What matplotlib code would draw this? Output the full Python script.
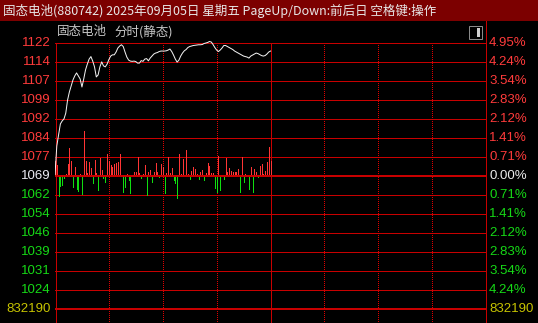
#!/usr/bin/env python3
"""Intraday (分时) chart of the 固态电池 sector index, morning session."""

import matplotlib
matplotlib.use("Agg")
import matplotlib.pyplot as plt
from matplotlib.patches import Rectangle
from matplotlib.lines import Line2D
from matplotlib.transforms import blended_transform_factory

plt.rcParams["font.family"] = ["Noto Sans CJK SC", "DejaVu Sans"]
plt.rcParams["lines.scale_dashes"] = False

TITLE = "固态电池(880742) 2025年09月05日 星期五 PageUp/Down:前后日 空格键:操作"
SUBTITLE_NAME = "固态电池"
SUBTITLE_MODE = "分时(静态)"

PREV_CLOSE = 1069.2
PCT_STEP = 0.7071  # percent per grid row
VOLUME_MAX_LABEL = "832190"

PRICE_LABELS_UP = ["1077", "1084", "1092", "1099", "1107", "1114", "1122"]
PRICE_LABELS_DOWN = ["1062", "1054", "1046", "1039", "1031", "1024"]
PCT_LABELS = ["0.71%", "1.41%", "2.12%", "2.83%", "3.54%", "4.24%", "4.95%"]

# one value per minute from 09:30 to 11:30
PRICE = [
    1069.6, 1081.0, 1085.5, 1089.8, 1091.0, 1091.8, 1094.1, 1099.3, 1102.5, 1104.9,
    1107.3, 1108.9, 1110.1, 1108.9, 1107.7, 1104.5, 1107.7, 1111.3, 1113.6, 1115.6,
    1116.6, 1114.8, 1112.5, 1108.5, 1109.3, 1112.5, 1114.5, 1112.9, 1112.5, 1113.6,
    1115.4, 1116.8, 1117.3, 1117.3, 1118.4, 1120.0, 1120.8, 1121.3, 1120.6, 1118.4,
    1116.4, 1115.2, 1114.8, 1114.7, 1114.8, 1114.6, 1114.0, 1114.0, 1115.0, 1114.7,
    1115.6, 1115.8, 1114.9, 1116.0, 1116.8, 1117.6, 1118.0, 1118.2, 1118.6, 1118.8,
    1118.8, 1118.8, 1118.9, 1119.2, 1119.6, 1118.6, 1117.2, 1115.6, 1114.4, 1115.2,
    1116.8, 1118.0, 1118.9, 1119.4, 1120.2, 1120.6, 1120.8, 1121.0, 1121.1, 1121.2,
    1121.3, 1121.3, 1121.4, 1121.8, 1122.0, 1122.2, 1122.6, 1122.4, 1121.4, 1120.2,
    1119.2, 1118.6, 1119.2, 1120.0, 1121.0, 1121.0, 1120.6, 1120.2, 1119.8, 1119.4,
    1118.8, 1118.4, 1118.0, 1117.6, 1117.2, 1116.8, 1116.6, 1116.4, 1116.0, 1116.8,
    1117.2, 1117.6, 1118.0, 1117.8, 1117.4, 1117.0, 1116.8, 1117.0, 1117.6, 1118.4,
    1118.8,
]

# red/green strength bars, in index points above/below the previous close
STRENGTH = [
    5.8, 4.3, -8.0, -4.0, -3.7, -1.1, 0.6, 4.5, 10.9, 5.8,
    -4.4, 3.6, -5.1, -6.1, 0.8, -7.3, 17.8, 5.8, 1.2, 5.3,
    2.9, -3.1, 6.4, 0.9, -5.7, 6.9, 2.3, -1.1, -2.7, 8.6,
    5.8, 4.3, 3.6, 4.5, 4.9, 5.3, 8.6, 0.3, -6.4, -4.4,
    0.5, -1.7, -6.8, 0.4, 1.3, 1.3, 7.6, 0.9, -1.1, 0.6,
    4.3, -7.7, 1.6, 2.3, -2.4, 1.3, 4.9, 1.6, -0.7, 4.5,
    3.6, -7.0, 0.9, 7.6, 0.9, 2.9, -1.7, -3.1, -9.0, 8.6,
    0.5, 6.6, 0.4, 10.2, 0.5, -1.3, 1.9, 3.6, 2.7, 0.5,
    -1.3, 1.6, 2.3, -1.6, 0.9, 4.9, 3.9, 0.9, 0.9, -4.7,
    -6.4, 8.0, -5.7, 0.4, -1.3, 6.9, 1.6, 3.2, 1.9, 1.3,
    1.3, 1.3, 2.7, -6.6, 7.4, -2.4, 0.5, 0.3, -5.1, 3.5,
    -6.6, 2.7, 1.6, -0.4, 4.0, 4.5, 0.5, 1.9, 5.3, 11.5,
    5.8,
]

RED = "#c80000"
TXT_RED = "#ff3b3b"
TXT_GREEN = "#16d916"
BAR_RED = "#ff3535"
BAR_GREEN = "#10dd10"

W, H = 538, 323
LEFT_PX, RIGHT_PX = 55, 486
TOP_PX, BOTTOM_PX = 22, 323
ZERO_PX, ROW_PX = 175.7, 19.0


def fx(px):
    return px / W


def fy(px):
    return 1 - px / H


def main():
    fig = plt.figure(figsize=(W / 100, H / 100), dpi=100, facecolor="black")

    step = PREV_CLOSE * PCT_STEP / 100
    y_top = PREV_CLOSE + (ZERO_PX - TOP_PX) / ROW_PX * step
    y_bot = PREV_CLOSE - (BOTTOM_PX - ZERO_PX) / ROW_PX * step

    ax = fig.add_axes([fx(LEFT_PX), 0, fx(RIGHT_PX - LEFT_PX), (BOTTOM_PX - TOP_PX) / H])
    ax.set_facecolor("black")
    ax.set_xlim(0, 240)
    ax.set_ylim(y_bot, y_top)
    ax.set_xticks([])
    ax.set_yticks([])
    for sp in ax.spines.values():
        sp.set_visible(False)

    px = 72 / 100  # one pixel in points
    grid_top = PREV_CLOSE + 7 * step
    crisp = dict(antialiased=False)

    # horizontal grid
    for k in range(-6, 8):
        if k != 0:
            ax.axhline(PREV_CLOSE + k * step, color=RED, lw=px, zorder=1, **crisp)

    # verticals: every 30 minutes, noon solid
    for m in range(30, 240, 30):
        if m == 120:
            ax.plot([m, m], [y_bot, grid_top], color=RED, lw=px, zorder=1, **crisp)
        else:
            ax.plot([m, m], [y_bot, grid_top], color="#e00000", lw=px,
                    dashes=(0.72, 1.44), zorder=1, **crisp)
    ax.plot([0.3, 0.3], [y_bot, grid_top], color=RED, lw=px, zorder=1, **crisp)

    minutes = list(range(len(PRICE)))
    ups = [(m, v) for m, v in zip(minutes, STRENGTH) if v > 0]
    downs = [(m, v) for m, v in zip(minutes, STRENGTH) if v < 0]
    ax.vlines([m for m, _ in ups], PREV_CLOSE, [PREV_CLOSE + v for _, v in ups],
              color=BAR_RED, lw=px, zorder=2, antialiased=False)
    ax.vlines([m for m, _ in downs], PREV_CLOSE, [PREV_CLOSE + v for _, v in downs],
              color=BAR_GREEN, lw=px, zorder=2, antialiased=False)
    ax.axhline(PREV_CLOSE, color=RED, lw=2 * px, zorder=3, **crisp)
    ax.axhline(PREV_CLOSE - 7 * step, color=RED, lw=2 * px, zorder=3, **crisp)

    ax.plot(minutes, PRICE, color="#f2f2f2", lw=px, zorder=4)

    # axis labels
    tr = blended_transform_factory(ax.transAxes, ax.transData)
    lx = (51 - LEFT_PX) / (RIGHT_PX - LEFT_PX)
    rx = (489 - LEFT_PX) / (RIGHT_PX - LEFT_PX)
    lab = dict(fontsize=9.5, va="center", family=["Liberation Sans", "DejaVu Sans"],
               transform=tr, clip_on=False)
    for i, (p, q) in enumerate(zip(PRICE_LABELS_UP, PCT_LABELS)):
        y = PREV_CLOSE + (i + 1) * step
        ax.text(lx, y, p, ha="right", color=TXT_RED, **lab)
        ax.text(rx, y, q, ha="left", color=TXT_RED, **lab)
    ax.text(lx, PREV_CLOSE, "1069", ha="right", color="#ececf4", **lab)
    ax.text(rx, PREV_CLOSE, "0.00%", ha="left", color="#ececec", **lab)
    for i, (p, q) in enumerate(zip(PRICE_LABELS_DOWN, PCT_LABELS)):
        y = PREV_CLOSE - (i + 1) * step
        ax.text(lx, y, p, ha="right", color=TXT_GREEN, **lab)
        ax.text(rx, y, q, ha="left", color=TXT_GREEN, **lab)
    ax.text(lx, PREV_CLOSE - 7 * step, VOLUME_MAX_LABEL, ha="right", color="#c8c400", **lab)
    ax.text(rx, PREV_CLOSE - 7 * step, VOLUME_MAX_LABEL, ha="left", color="#c8c400", **lab)

    # title bar
    fig.patches.append(Rectangle((0, fy(21)), 1, 21 / H, transform=fig.transFigure,
                                 facecolor="#7c0000", edgecolor="none", zorder=0))
    fig.text(fx(3), fy(10.5), TITLE, color="#e8e8e8", fontsize=9, va="center", ha="left")
    fig.text(fx(57), fy(32), SUBTITLE_NAME, color="#c8c8c8", fontsize=9, va="center")
    fig.text(fx(114), fy(32), SUBTITLE_MODE, color="#c8c8c8", fontsize=9, va="center")

    # right border from the title bar down
    fig.lines.append(Line2D([fx(RIGHT_PX), fx(RIGHT_PX)], [fy(21), 0], transform=fig.transFigure,
                            color=RED, lw=px, antialiased=False))
    # small window icon
    fig.patches.append(Rectangle((fx(469), fy(39)), fx(13), 13 / H, transform=fig.transFigure,
                                 facecolor="none", edgecolor="#8a8a8a", lw=px))
    fig.patches.append(Rectangle((fx(477), fy(37)), fx(3), 9 / H, transform=fig.transFigure,
                                 facecolor="#d0d0d0", edgecolor="none"))

    fig.savefig("out.png", dpi=100, facecolor="black")


if __name__ == "__main__":
    main()
